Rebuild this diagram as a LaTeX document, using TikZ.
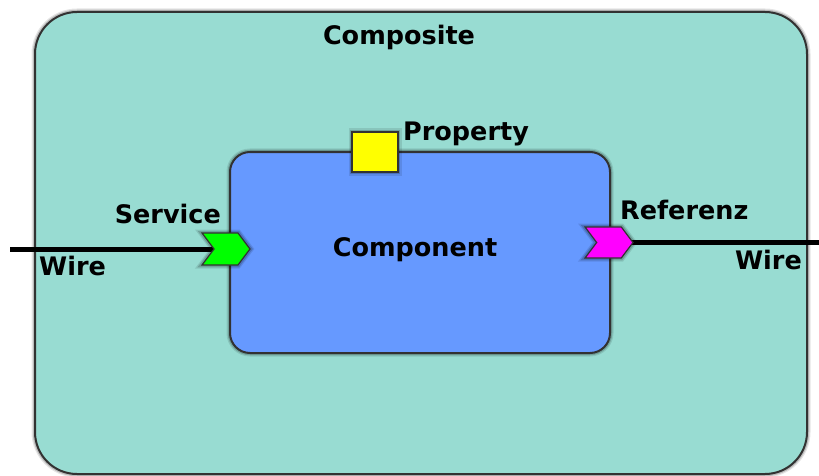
\documentclass[tikz,border=0pt]{standalone}
\usepackage{fontspec}
\setmainfont{DejaVu Sans}
\usetikzlibrary{shapes.symbols}
\pgfdeclarelayer{back}
\pgfdeclarelayer{wires}
\pgfsetlayers{back,wires,main}
\definecolor{compfill}{RGB}{152,220,210}
\definecolor{partfill}{RGB}{102,153,255}
\definecolor{edge}{RGB}{50,50,50}
\definecolor{propfill}{RGB}{255,255,0}
\definecolor{servfill}{RGB}{0,255,0}
\definecolor{reffill}{RGB}{255,0,255}
\tikzset{
  halo/.style={
    preaction={draw=black, draw opacity=0.10, line width=7pt},
    preaction={draw=black, draw opacity=0.18, line width=4.5pt}},
  box/.style={halo, draw=edge, line width=2pt, inner sep=0pt},
  chevron/.style={halo, draw=edge, line width=1.2pt, inner sep=0pt,
    shape=signal, signal to=east, signal from=west,
    signal pointer angle=106, minimum width=48pt, minimum height=32pt},
  lbl/.style={font=\fontsize{25.5}{30}\selectfont\bfseries, inner sep=0pt},
  wire/.style={line width=5pt, draw=black}
}
\begin{document}
\begin{tikzpicture}[x=1pt,y=-1pt]
\useasboundingbox (0,0) rectangle (819,476);
\begin{pgfonlayer}{back}
\node[box, fill=compfill, rounded corners=42pt, minimum width=772pt,
  minimum height=462pt] (composite) at (421,243) {};
\end{pgfonlayer}
\node[lbl, anchor=base] (compositelbl) at (399,45) {Composite};
% component with its property, service and reference
\node[box, fill=partfill, rounded corners=20pt, minimum width=380pt,
  minimum height=201pt] (component) at (420,252.5) {};
\node[lbl, anchor=base] (componentlbl) at (415,256) {Component};
\node[box, line width=1.2pt, fill=propfill, minimum width=46pt,
  minimum height=40pt] (property) at (375,152) {};
\node[lbl, anchor=base west] (propertylbl) at (403,140) {Property};
\node[chevron, fill=servfill] (service) at (226,249) {};
\node[lbl, anchor=base east] (servicelbl) at (221,223) {Service};
\node[chevron, fill=reffill, minimum height=31pt] (referenz) at (609,242.5) {};
\node[lbl, anchor=base west] (referenzlbl) at (620,219) {Referenz};
% wires
\coordinate (inwire) at (10,249);
\coordinate (outwire) at (819,242.5);
\begin{pgfonlayer}{wires}
\draw[wire] (inwire) -- (service.center);
\draw[wire] (referenz.center) -- (outwire);
\end{pgfonlayer}
\node[lbl, anchor=base west] (wirein) at (39,275) {Wire};
\node[lbl, anchor=base east] (wireout) at (802,269) {Wire};
\end{tikzpicture}
\end{document}
